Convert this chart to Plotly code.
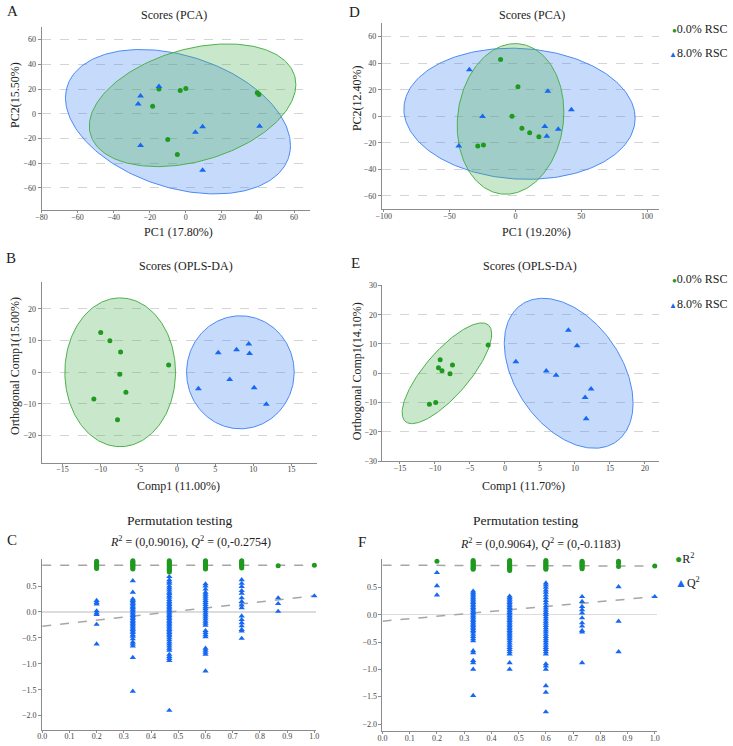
import numpy as np
import plotly.graph_objects as go

W, H = 733, 746
FONT = "Liberation Serif"
GREEN = "#1e9a1e"
BLUE = "#1668f2"
GREEN_LINE = "#4cb04c"
BLUE_LINE = "#4a8af4"
GREEN_FILL = "rgba(76,175,80,0.30)"
BLUE_FILL = "rgba(66,133,244,0.30)"

# ---------------- data ----------------
# A: PCA scores (0.0% RSC vs 8.0% RSC)
a_ctrl_x = [-14.9, -3.1, 0.0, -18.4, -10.0, -4.7, 39.6, 40.5]
a_ctrl_y = [20.0, 18.9, 20.5, 6.1, -20.8, -33.0, 17.0, 15.7]
a_rsc_x = [-14.9, -25.1, -26.4, -25.1, 5.3, 9.3, 40.9, 9.3]
a_rsc_y = [22.0, 14.4, 8.0, -25.6, -15.0, -10.4, -10.1, -45.6]
# ellipse: centre x, centre y, half width, half height, tilt (sin)
a_ctrl_ell = [3.75, 6.9, 57.25, 49.6, 0.34]
a_rsc_ell = [-4.35, -6.4, 62.35, 58.4, -0.33]

# D: PCA scores
d_ctrl_x = [-11.3, 1.9, -2.6, 4.9, 10.8, 17.8, -28.6, -24.3]
d_ctrl_y = [42.8, 22.2, 0.0, -9.0, -12.4, -15.4, -22.4, -21.7]
d_rsc_x = [-35.0, -25.0, -43.0, 24.6, 42.5, 22.3, 23.8, 32.5]
d_rsc_y = [35.0, -0.2, -22.4, 18.9, 5.0, -7.7, -15.0, -9.7]
d_ctrl_ell = [-3.75, -2.0, 40.5, 56.75, 0.09]
d_rsc_ell = [3.1, 1.9, 87.8, 49.4, -0.07]

# B: OPLS-DA scores
b_ctrl_x = [-10.0, -8.8, -7.4, -7.5, -6.7, -10.9, -7.8, -1.1]
b_ctrl_y = [12.6, 10.0, 6.4, -0.6, -6.3, -8.4, -15.0, 2.3]
b_rsc_x = [5.4, 7.8, 9.4, 9.5, 6.9, 2.8, 10.1, 11.7]
b_rsc_y = [6.2, 7.1, 8.9, 5.9, -2.3, -5.2, -4.9, -10.1]
b_ctrl_ell = [-7.45, 0.0, 7.25, 23.5, 0.0]
b_rsc_ell = [8.3, 0.0, 7.05, 17.85, 0.0]

# E: OPLS-DA scores
e_ctrl_x = [-9.26, -9.5, -9.0, -7.5, -7.85, -10.8, -9.9, -2.4]
e_ctrl_y = [4.6, 1.9, 0.9, 2.8, -0.2, -10.6, -10.0, 9.7]
e_rsc_x = [1.55, 9.06, 10.3, 5.9, 7.3, 12.3, 11.45, 11.6]
e_rsc_y = [3.9, 14.7, 9.4, 0.8, -0.7, -5.4, -8.3, -15.5]
e_ctrl_ell = [-8.3, 0.0, 6.4, 17.2, 0.78]
e_rsc_ell = [9.1, 0.0, 9.2, 25.6, -0.40]

# C / F: permutation tests (levels of correlation between permuted and original Y)
perm_levels = [0.2, 0.333, 0.467, 0.6, 0.733, 0.867, 1.0]

c_r2 = [
    [0.98, 0.955, 0.93, 0.905, 0.88, 0.86, 0.84],
    [0.99, 0.97, 0.95, 0.93, 0.91, 0.89, 0.87, 0.85, 0.83],
    [0.99, 0.97, 0.95, 0.93, 0.91, 0.89, 0.87, 0.85, 0.83, 0.81, 0.79, 0.77],
    [0.99, 0.97, 0.95, 0.93, 0.91, 0.89, 0.87, 0.85, 0.83],
    [0.99, 0.97, 0.95, 0.93, 0.91, 0.89, 0.87, 0.85],
    [0.89],
    [0.90],
]
c_q2 = [
    [0.22, 0.18, 0.15, 0.02, -0.02, -0.05, -0.24, -0.62],
    [0.60, 0.38, 0.25, 0.22, 0.19, 0.16, 0.13, 0.10, 0.08, 0.05, 0.02, -0.01, -0.04,
     -0.07, -0.10, -0.13, -0.16, -0.19, -0.22, -0.25, -0.28, -0.31, -0.34, -0.37,
     -0.40, -0.44, -0.47, -0.52, -0.58, -0.62, -0.66, -0.88, -1.53],
    [0.68, 0.62, 0.58, 0.55, 0.50, 0.46, 0.42, 0.38, 0.35, 0.31, 0.28, 0.24, 0.20,
     0.17, 0.14, 0.11, 0.08, 0.05, 0.02, -0.01, -0.04, -0.07, -0.10, -0.13, -0.16,
     -0.19, -0.22, -0.25, -0.28, -0.31, -0.34, -0.37, -0.40, -0.43, -0.46, -0.50,
     -0.54, -0.58, -0.62, -0.66, -0.70, -0.74, -0.82, -0.86, -0.90, -0.94, -1.90],
    [0.54, 0.50, 0.44, 0.38, 0.34, 0.30, 0.26, 0.22, 0.18, 0.14, 0.10, 0.06, 0.02,
     -0.02, -0.06, -0.10, -0.14, -0.18, -0.22, -0.26, -0.36, -0.40, -0.44, -0.48,
     -0.70, -0.74, -0.78, -0.82, -1.14],
    [0.62, 0.55, 0.49, 0.41, 0.36, 0.27, 0.20, 0.13, 0.08, -0.08, -0.15, -0.21,
     -0.27, -0.34, -0.37, -0.51],
    [0.27, 0.16, 0.01],
    [0.31],
]
c_r2_intercept = 0.9016
c_q2_intercept = -0.2754

f_r2 = [
    [0.98],
    [0.99, 0.97, 0.95, 0.93, 0.91, 0.89, 0.87, 0.85, 0.83],
    [0.99, 0.97, 0.95, 0.93, 0.91, 0.89, 0.87, 0.85, 0.83, 0.81],
    [0.99, 0.97, 0.95, 0.93, 0.91, 0.89, 0.87, 0.85, 0.83],
    [0.98, 0.96, 0.94, 0.92, 0.90, 0.88, 0.86, 0.84],
    [0.98, 0.94, 0.88],
    [0.89],
]
f_q2 = [
    [0.77, 0.53, 0.36],
    [0.43, 0.40, 0.37, 0.34, 0.31, 0.28, 0.25, 0.22, 0.19, 0.16, 0.13, 0.10, 0.07,
     0.04, 0.01, -0.02, -0.05, -0.08, -0.11, -0.14, -0.17, -0.20, -0.23, -0.26,
     -0.29, -0.32, -0.36, -0.40, -0.44, -0.48, -0.66, -0.70, -0.84, -0.88, -1.00, -1.48],
    [0.34, 0.31, 0.28, 0.25, 0.22, 0.19, 0.16, 0.13, 0.10, 0.07, 0.04, 0.01, -0.02,
     -0.05, -0.08, -0.11, -0.14, -0.17, -0.20, -0.23, -0.26, -0.29, -0.32, -0.35,
     -0.38, -0.41, -0.44, -0.48, -0.52, -0.56, -0.60, -0.64, -0.68, -0.72, -0.88, -1.00],
    [0.58, 0.54, 0.50, 0.45, 0.41, 0.36, 0.31, 0.26, 0.21, 0.16, 0.12, 0.08, 0.04,
     0.00, -0.04, -0.08, -0.12, -0.16, -0.20, -0.24, -0.28, -0.32, -0.36, -0.40,
     -0.44, -0.48, -0.52, -0.56, -0.60, -0.64, -0.68, -0.72, -0.90, -0.94, -1.00,
     -1.30, -1.42, -1.78],
    [0.33, 0.24, 0.15, 0.09, 0.03, -0.06, -0.15, -0.21, -0.29, -0.32, -0.88],
    [0.51, -0.12, -0.68],
    [0.33],
]
f_r2_intercept = 0.9064
f_q2_intercept = -0.1183

# ---------------- helpers ----------------
fig = go.Figure()


def px_dom_x(x0, x1):
    return [x0 / W, x1 / W]


def px_dom_y(y0, y1):
    return [1 - y1 / H, 1 - y0 / H]


def ellipse(params):
    cx, cy, hw, hh, s = params
    t = np.linspace(0, 2 * np.pi, 240)
    d = np.arcsin(s)
    return cx + hw * np.cos(t), cy + hh * np.sin(t + d)


def add_scores(idx, ctrl_x, ctrl_y, rsc_x, rsc_y, ctrl_ell, rsc_ell):
    xa = "x" if idx == 1 else f"x{idx}"
    ya = "y" if idx == 1 else f"y{idx}"
    ex, ey = ellipse(rsc_ell)
    fig.add_trace(go.Scatter(x=ex, y=ey, mode="lines", fill="toself",
                             fillcolor=BLUE_FILL, line=dict(color=BLUE_LINE, width=1),
                             xaxis=xa, yaxis=ya, showlegend=False, hoverinfo="skip"))
    ex, ey = ellipse(ctrl_ell)
    fig.add_trace(go.Scatter(x=ex, y=ey, mode="lines", fill="toself",
                             fillcolor=GREEN_FILL, line=dict(color=GREEN_LINE, width=1),
                             xaxis=xa, yaxis=ya, showlegend=False, hoverinfo="skip"))
    fig.add_trace(go.Scatter(x=ctrl_x, y=ctrl_y, mode="markers",
                             marker=dict(symbol="circle", size=5, color=GREEN),
                             xaxis=xa, yaxis=ya, showlegend=False, name="0.0% RSC"))
    fig.add_trace(go.Scatter(x=rsc_x, y=rsc_y, mode="markers",
                             marker=dict(symbol="triangle-up", size=6, color=BLUE),
                             xaxis=xa, yaxis=ya, showlegend=False, name="8.0% RSC"))


def add_perm(idx, r2, q2, r2_int, q2_int):
    xa = f"x{idx}"
    ya = f"y{idx}"
    r2x, r2y, q2x, q2y = [], [], [], []
    for lvl, vals in zip(perm_levels, r2):
        r2x += [lvl] * len(vals)
        r2y += vals
    for lvl, vals in zip(perm_levels, q2):
        q2x += [lvl] * len(vals)
        q2y += vals
    fig.add_trace(go.Scatter(x=[0, perm_levels[-1]], y=[r2_int, r2[-1][0]], mode="lines",
                             line=dict(color="#a6a6a6", width=1.5, dash="dash"),
                             xaxis=xa, yaxis=ya, showlegend=False, hoverinfo="skip"))
    fig.add_trace(go.Scatter(x=[0, perm_levels[-1]], y=[q2_int, q2[-1][0]], mode="lines",
                             line=dict(color="#a6a6a6", width=1.5, dash="dash"),
                             xaxis=xa, yaxis=ya, showlegend=False, hoverinfo="skip"))
    fig.add_trace(go.Scatter(x=q2x, y=q2y, mode="markers", cliponaxis=False,
                             marker=dict(symbol="triangle-up", size=5.5, color=BLUE),
                             xaxis=xa, yaxis=ya, showlegend=False, name="Q2"))
    fig.add_trace(go.Scatter(x=r2x, y=r2y, mode="markers", cliponaxis=False,
                             marker=dict(symbol="circle", size=5, color=GREEN),
                             xaxis=xa, yaxis=ya, showlegend=False, name="R2"))


add_scores(1, a_ctrl_x, a_ctrl_y, a_rsc_x, a_rsc_y, a_ctrl_ell, a_rsc_ell)
add_scores(2, d_ctrl_x, d_ctrl_y, d_rsc_x, d_rsc_y, d_ctrl_ell, d_rsc_ell)
add_scores(3, b_ctrl_x, b_ctrl_y, b_rsc_x, b_rsc_y, b_ctrl_ell, b_rsc_ell)
add_scores(4, e_ctrl_x, e_ctrl_y, e_rsc_x, e_rsc_y, e_ctrl_ell, e_rsc_ell)
add_perm(5, c_r2, c_q2, c_r2_intercept, c_q2_intercept)
add_perm(6, f_r2, f_q2, f_r2_intercept, f_q2_intercept)

tickfont = dict(family=FONT, size=8, color="#444444")
base = dict(showline=True, linecolor="#8c8c8c", linewidth=1, ticks="outside",
            ticklen=3, tickcolor="#8c8c8c", tickfont=tickfont, zeroline=False,
            showgrid=False, fixedrange=True)
grid = dict(showgrid=True, gridcolor="#d4d4d4", griddash="dash", gridwidth=1)

layout_axes = {}
specs = [
    # idx, xdom px, ydom px, xrange, yrange, xticks, yticks, xfmt, yfmt, grid
    (1, (36, 308.5), (24.5, 209.5), [-80, 69], [-78, 70],
     [-80, -60, -40, -20, 0, 20, 40, 60], [60, 40, 20, 0, -20, -40, -60], None, None, True),
    (2, (381, 662), (20.6, 208.4), [-101.5, 109], [-70, 70],
     [-100, -50, 0, 50, 100], [60, 40, 20, 0, -20, -40, -60], None, None, True),
    (3, (36, 315), (282.1, 464.5), [-17.76, 18.3], [-28.5, 28.5],
     [-15, -10, -5, 0, 5, 10, 15], [20, 10, 0, -10, -20], None, None, True),
    (4, (381.7, 662), (284.6, 463.1), [-17.5, 22], [-30, 30.3],
     [-15, -10, -5, 0, 5, 10, 15, 20], [30, 20, 10, 0, -10, -20, -30], None, None, True),
    (5, (36.7, 314), (561.6, 734.5), [0, 1.005], [-2.27, 1.03],
     [0, 0.1, 0.2, 0.3, 0.4, 0.5, 0.6, 0.7, 0.8, 0.9, 1.0],
     [0.5, 0, -0.5, -1.0, -1.5, -2.0], ".1f", ".1f", False),
    (6, (381.7, 660.5), (562, 736), [0, 1.01], [-2.13, 1.02],
     [0, 0.1, 0.2, 0.3, 0.4, 0.5, 0.6, 0.7, 0.8, 0.9, 1.0],
     [0.5, 0, -0.5, -1.0, -1.5, -2.0], ".1f", ".1f", False),
]
for idx, xd, yd, xr, yr, xt, yt, xf, yf, g in specs:
    xk = "xaxis" if idx == 1 else f"xaxis{idx}"
    yk = "yaxis" if idx == 1 else f"yaxis{idx}"
    xa = dict(base, domain=px_dom_x(*xd), range=xr, tickvals=xt,
              anchor="y" if idx == 1 else f"y{idx}", ticklen=2, ticklabelstandoff=-3)
    ya = dict(base, domain=px_dom_y(*yd), range=yr, tickvals=yt,
              anchor="x" if idx == 1 else f"x{idx}")
    if xf:
        xa["tickformat"] = xf
    if yf:
        ya["tickformat"] = yf
    if g:
        ya.update(grid)
    else:
        ya.update(zeroline=True, zerolinecolor="#dcdcdc", zerolinewidth=1.5)
    layout_axes[xk] = xa
    layout_axes[yk] = ya

annotations = []


def ann(text, px, py, size=12, xanchor="center", angle=0, color="#222222"):
    annotations.append(dict(text=text, x=px / W, y=1 - py / H, xref="paper", yref="paper",
                            xanchor=xanchor, yanchor="middle", showarrow=False,
                            textangle=angle, font=dict(family=FONT, size=size, color=color)))


# panel letters
ann("A", -1, 8, size=15, xanchor="left")
ann("D", 346, 9.5, size=15, xanchor="left")
ann("B", -2, 258, size=15, xanchor="left")
ann("E", 348, 263, size=15, xanchor="left")
ann("C", -1, 543, size=15, xanchor="left")
ann("F", 355, 545, size=15, xanchor="left")

# titles
ann("Scores (PCA)", 170, 12, size=12)
ann("Scores (PCA)", 533, 12, size=12)
ann("Scores (OPLS-DA)", 182, 266, size=12)
ann("Scores (OPLS-DA)", 531, 266, size=12)
ann("Permutation testing", 176, 523, size=13.5)
ann("Permutation testing", 527, 523, size=13.5)
ann("<i>R</i><sup>2</sup> = (0,0.9016), <i>Q</i><sup>2</sup> = (0,-0.2754)", 187, 544, size=12)
ann("<i>R</i><sup>2</sup> = (0,0.9064), <i>Q</i><sup>2</sup> = (0,-0.1183)", 541, 546, size=12)

# axis titles
ann("PC1 (17.80%)", 175, 231, size=12)
ann("PC1 (19.20%)", 538, 231, size=12)
ann("Comp1 (11.00%)", 175, 488, size=12)
ann("Comp1 (11.70%)", 525, 488, size=12)
ann("PC2(15.50%)", 9, 93, size=12, angle=-90)
ann("PC2(12.40%)", 356, 96, size=12, angle=-90)
ann("Orthogonal Comp1(15.00%)", 9, 367, size=12, angle=-90)
ann("Orthogonal Comp1(14.10%)", 356, 372, size=12, angle=-90)

# legends
for yy in (26, 279):
    ann(f"<span style='color:{GREEN};font-size:8px'>●</span>0.0% RSC", 734, yy, size=12, xanchor="right")
    ann(f"<span style='color:{BLUE};font-size:8px'>▲</span>8.0% RSC", 734, yy + 25, size=12, xanchor="right")
ann(f"<span style='color:{GREEN};font-size:12px'>●</span>R<sup>2</sup>", 676, 562, size=12, xanchor="left")
ann(f"<span style='color:{BLUE};font-size:12px'>▲</span>Q<sup>2</sup>", 676, 586, size=12, xanchor="left")

fig.update_layout(width=W, height=H, margin=dict(l=0, r=0, t=0, b=0),
                  paper_bgcolor="white", plot_bgcolor="white",
                  annotations=annotations, **layout_axes)

fig.write_html("out.html", config={"displayModeBar": False, "staticPlot": True},
               post_script="document.body.style.margin='0px';document.body.style.padding='0px';")
